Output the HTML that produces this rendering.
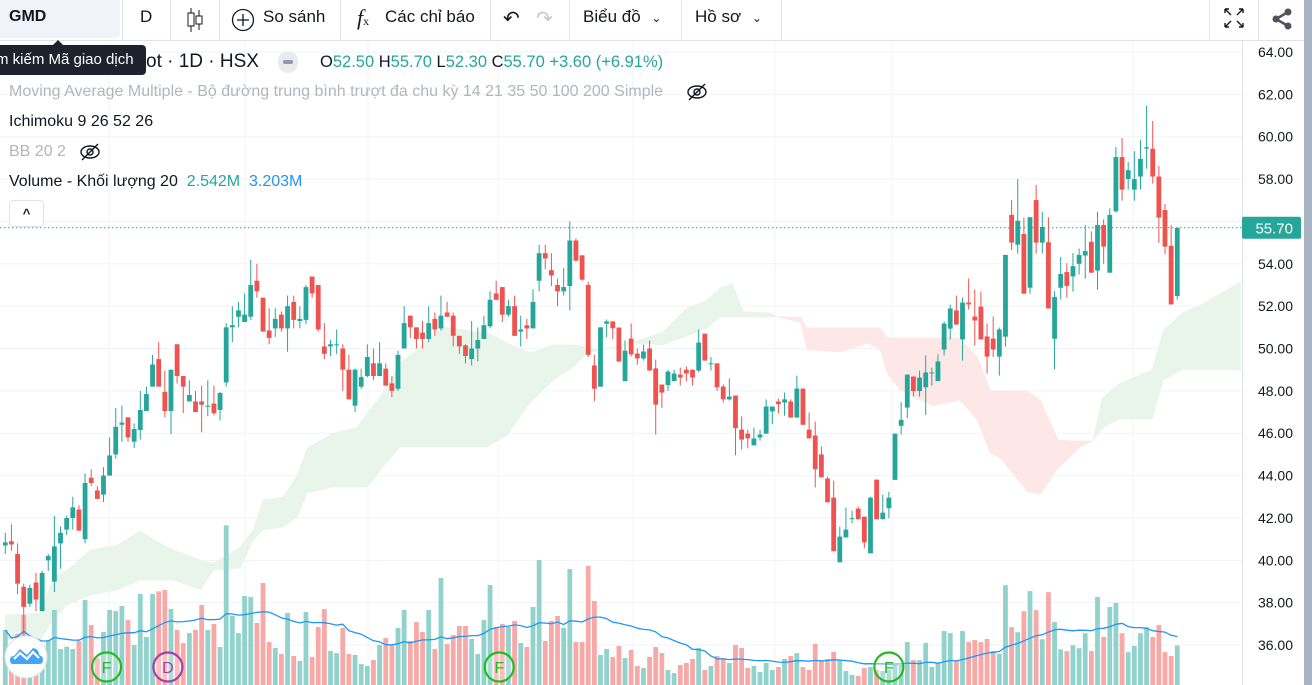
<!DOCTYPE html>
<html><head><meta charset="utf-8">
<style>
*{box-sizing:border-box;margin:0;padding:0}
body{width:1312px;height:685px;overflow:hidden;background:#fff;font-family:"Liberation Sans","Noto Sans CJK SC",sans-serif;color:#131722;position:relative}
.abs{position:absolute;white-space:nowrap}
.sep{position:absolute;top:0;width:1px;height:41px;background:#e0e3eb}
.tb{font-size:17px;color:#131722;top:7px}
</style></head><body>
<svg id="chart" width="1312" height="685" style="position:absolute;left:0;top:0">
<defs><clipPath id="pane"><rect x="0" y="41" width="1242" height="644"/></clipPath></defs>
<g id="grid"></g>
<g id="cloud" clip-path="url(#pane)"></g>
<g id="vol" clip-path="url(#pane)"></g>
<g id="candles" clip-path="url(#pane)"></g>
<g id="axis"></g>
</svg>

<!-- toolbar -->
<div class="abs" style="left:0;top:0;width:1312px;height:41px;border-bottom:1px solid #e0e3eb;background:#fff"></div>
<div class="abs" style="left:0;top:0;width:120px;height:38px;background:#f0f3fa;border-radius:0 0 4px 0;font-weight:bold;font-size:16px;padding:8px 0 0 9px">GMD</div>
<div class="sep" style="left:122px"></div>
<div class="abs tb" style="left:140px">D</div>
<div class="sep" style="left:170px"></div>
<svg class="abs" style="left:185px;top:6px" width="20" height="28"><line x1="6" y1="2" x2="6" y2="26" stroke="#131722"/><rect x="3" y="7" width="6" height="13" fill="#fff" stroke="#131722"/><line x1="14" y1="4" x2="14" y2="24" stroke="#131722"/><rect x="11" y="10" width="6" height="8" fill="#fff" stroke="#131722"/></svg>
<div class="sep" style="left:219px"></div>
<svg class="abs" style="left:231px;top:8px" width="24" height="24"><circle cx="12" cy="12" r="10.5" fill="none" stroke="#131722" stroke-width="1.3"/><path d="M12 6v12M6 12h12" stroke="#131722" stroke-width="1.3"/></svg>
<div class="abs tb" style="left:263px">So sánh</div>
<div class="sep" style="left:340px"></div>
<div class="abs" style="left:357px;top:5px;font-family:'Liberation Serif',serif;font-style:italic;font-size:22px">f<span style="font-size:12px;font-style:normal">x</span></div>
<div class="abs tb" style="left:385px">Các chỉ báo</div>
<div class="sep" style="left:490px"></div>
<div class="abs" style="left:503px;top:6px;font-size:20px">↶</div>
<div class="abs" style="left:536px;top:6px;font-size:20px;color:#c5c8d0">↷</div>
<div class="sep" style="left:569px"></div>
<div class="abs tb" style="left:583px">Biểu đồ <span style="font-size:12px;margin-left:6px">&#8964;</span></div>
<div class="sep" style="left:681px"></div>
<div class="abs tb" style="left:695px">Hồ sơ <span style="font-size:12px;margin-left:6px">&#8964;</span></div>
<div class="sep" style="left:781px"></div>
<div class="sep" style="left:1209px"></div>
<svg class="abs" style="left:1222px;top:6px" width="24" height="24"><g stroke="#131722" stroke-width="1.4" fill="none"><path d="M3 3l6 6M3 3h4M3 3v4M21 3l-6 6M21 3h-4M21 3v4M3 21l6-6M3 21h4M3 21v-4M21 21l-6-6M21 21h-4M21 21v-4"/></g></svg>
<div class="sep" style="left:1258px"></div>
<svg class="abs" style="left:1270px;top:7px" width="24" height="24"><circle cx="18" cy="5" r="3.5" fill="#50535e"/><circle cx="6" cy="12" r="3.5" fill="#50535e"/><circle cx="18" cy="19" r="3.5" fill="#50535e"/><path d="M18 5L6 12L18 19" stroke="#50535e" stroke-width="2.5" fill="none"/></svg>
<div class="abs" style="left:1304px;top:0;width:8px;height:685px;background:#a9b4c2"></div>

<!-- legend -->
<div class="abs" style="left:146px;top:51px;font-size:19px;color:#131722">ot · 1D · HSX</div>
<div class="abs" style="left:278px;top:51px;width:20px;height:22px;border-radius:10px;background:#e9ebef"><div style="margin:9px 5px;width:10px;height:4px;border-radius:2px;background:#9598a1"></div></div>
<div class="abs" style="left:320px;top:53px;font-size:16.5px;color:#131722">O<span style="color:#26a69a">52.50</span> H<span style="color:#26a69a">55.70</span> L<span style="color:#26a69a">52.30</span> C<span style="color:#26a69a">55.70</span> <span style="color:#26a69a">+3.60 (+6.91%)</span></div>
<div class="abs" style="left:9px;top:83px;font-size:16px;color:#b2b5be">Moving Average Multiple - Bộ đường trung bình trượt đa chu kỳ 14 21 35 50 100 200 Simple</div>
<svg class="abs" style="left:686px;top:82px" width="22" height="20"><ellipse cx="11" cy="10" rx="9" ry="6" fill="none" stroke="#131722" stroke-width="1.4"/><circle cx="11" cy="10" r="3" fill="none" stroke="#131722" stroke-width="1.4"/><line x1="3" y1="18" x2="19" y2="2" stroke="#131722" stroke-width="1.4"/></svg>
<div class="abs" style="left:9px;top:113px;font-size:16px;color:#131722">Ichimoku 9 26 52 26</div>
<div class="abs" style="left:9px;top:143px;font-size:16px;color:#b2b5be">BB 20 2</div>
<svg class="abs" style="left:79px;top:142px" width="22" height="20"><ellipse cx="11" cy="10" rx="9" ry="6" fill="none" stroke="#131722" stroke-width="1.4"/><circle cx="11" cy="10" r="3" fill="none" stroke="#131722" stroke-width="1.4"/><line x1="3" y1="18" x2="19" y2="2" stroke="#131722" stroke-width="1.4"/></svg>
<div class="abs" style="left:9px;top:173px;font-size:16px;color:#131722">Volume - Khối lượng 20 &nbsp;<span style="color:#26a69a">2.542M</span> &nbsp;<span style="color:#2196f3">3.203M</span></div>
<div class="abs" style="left:9px;top:200px;width:35px;height:27px;border:1px solid #e0e3eb;border-radius:4px;background:#fff;text-align:center;font-size:13px;font-weight:bold;padding-top:5px">^</div>
<div class="abs" style="left:-4px;top:45px;width:150px;height:30px;background:#1e222d;border-radius:4px;color:#fff;font-size:15px;padding:6px 0 0 0">m kiếm Mã giao dịch</div>
<div class="abs" style="left:52px;top:40px;width:0;height:0;border-left:6px solid transparent;border-right:6px solid transparent;border-bottom:6px solid #1e222d"></div>

<svg class="abs" style="left:2px;top:633px" width="50" height="50"><circle cx="24" cy="24" r="21" fill="#fff" stroke="#e0e3eb"/><path d="M11 31 Q8 31 8 27 Q8 23 12 23 L18 16 L25 22 L31 15 Q37 16 37 22 Q41 23 41 27 Q41 31 37 31 Z" fill="#42a5f5"/><path d="M12 26 L18 20 L25 26 L31 19 L37 25" stroke="#fff" stroke-width="2.2" fill="none"/></svg>

<script>
// ---- data ----
const opens =[40.7,40.9,40.3,38.75,37.95,38.95,37.6,40.0,38.99,40.8,41.45,42.0,42.4,41.0,43.9,43.3,43.1,44.0,45.0,46.4,46.75,45.6,46.15,47.05,48.2,49.5,47.95,47.05,50.2,48.7,47.5,47.5,47.5,
47.25,47.4,47.1,48.4,51.0,51.5,51.25,51.5,53.2,52.4,50.85,50.95,51.6,50.95,52.2,51.3,51.35,53.4,53.0,50.1,50.1,50.2,50.0,49.0,47.3,48.2,48.7,49.3,48.7,49.05,48.35,48.1,50.0,
51.55,51.0,50.75,50.45,51.4,50.95,51.7,51.55,50.6,50.15,49.5,50.0,50.45,51.05,52.6,52.9,51.6,52.0,50.8,51.1,50.95,53.2,54.5,53.7,53.0,52.7,52.95,55.1,54.4,53.0,49.2,48.2,
51.17,51.28,50.99,48.46,50.47,49.76,49.53,50.0,49.06,48.3,48.27,48.46,48.77,49.0,49.0,48.96,50.7,49.26,49.3,48.2,47.6,47.78,46.17,45.98,45.43,45.8,45.98,47.03,47.5,47.45,47.5,46.74,48.11,
46.17,45.89,45.0,43.86,42.96,39.91,41.08,41.96,42.44,42.06,40.33,43.81,41.94,42.46,43.8,46.35,47.21,48.68,47.99,48.17,48.83,48.46,49.95,50.94,51.8,50.43,52.17,51.51,51.98,50.57,50.47,49.62,
50.56,56.31,54.9,55.41,52.87,57.01,55.0,55.02,50.46,52.87,53.61,53.4,54.0,54.39,55.04,53.68,55.83,53.58,56.48,59.04,58.0,57.5,58.12,59.44,59.43,58.12,56.54,54.85,52.48];
const highs =[41.3,41.7,40.8,38.9,38.85,39.4,39.5,40.3,42.1,41.6,42.1,43.0,42.6,44.1,44.3,43.5,44.4,45.8,47.2,47.3,46.75,46.45,48.0,48.2,49.7,50.3,48.95,49.0,50.2,48.7,48.5,48.0,48.25,
48.5,48.25,47.95,51.2,52.0,52.2,52.6,54.2,54.0,52.4,51.9,51.9,51.75,52.5,52.5,52.0,53.0,53.4,53.0,51.2,50.4,50.9,50.2,49.7,49.05,49.05,50.2,50.0,50.3,49.3,48.7,49.9,52.0,
51.55,51.0,51.3,52.0,51.7,52.5,52.2,51.7,50.6,50.2,51.3,51.0,51.55,52.7,53.2,52.9,52.3,52.5,51.55,51.4,52.8,54.9,54.9,54.5,53.3,53.8,56.0,55.2,54.4,53.15,49.7,51.0,
51.37,51.28,50.99,50.38,51.18,50.0,50.19,50.38,49.48,48.3,49.0,49.0,49.1,49.15,49.0,50.9,50.7,49.6,49.3,48.3,48.58,47.78,46.79,46.17,46.26,46.17,47.6,47.26,47.64,47.92,47.6,48.72,48.11,
46.98,46.55,45.37,43.95,43.76,41.59,42.49,42.34,42.54,42.06,43.0,43.81,43.1,43.24,45.98,47.47,48.77,48.68,48.96,49.67,49.1,49.72,51.28,52.08,52.5,52.41,53.31,52.79,52.69,51.18,51.51,50.99,
54.42,57.01,58.0,56.18,56.2,57.72,56.45,56.2,52.71,54.32,54.03,54.51,54.72,55.83,55.53,56.45,56.1,56.62,59.51,59.94,58.81,59.32,59.85,61.45,60.75,58.62,56.82,55.83,55.7];
const lows  =[40.3,40.45,38.4,36.5,37.8,37.6,37.6,39.5,38.5,39.6,41.2,41.45,41.4,40.8,43.5,42.9,42.75,44.0,44.8,45.6,45.6,45.3,45.7,47.05,48.2,48.2,46.75,45.95,48.35,46.95,47.5,47.0,46.05,
46.8,46.85,46.6,48.2,50.3,51.0,51.25,51.35,52.4,50.8,50.2,50.55,50.8,49.85,50.95,50.95,51.15,52.4,50.8,49.5,49.65,49.75,48.0,47.6,47.0,48.1,48.65,48.5,48.7,48.25,47.7,48.0,50.0,
50.5,50.0,50.0,50.3,50.6,50.85,51.5,50.1,49.75,49.3,49.2,49.4,50.45,50.95,52.3,51.25,51.5,50.6,50.1,50.45,50.95,52.7,53.75,52.95,52.0,52.5,51.8,54.1,53.2,49.6,47.5,48.2,
50.54,50.44,49.35,48.46,49.62,49.24,49.43,48.96,45.94,47.2,48.0,48.46,48.25,48.44,48.25,48.88,49.43,48.96,48.0,47.45,47.54,44.96,45.23,45.29,45.43,45.65,45.98,46.43,46.94,46.83,46.74,46.74,46.4,
45.76,43.44,43.92,42.74,40.43,39.91,41.08,41.75,41.94,40.57,40.33,41.94,41.94,41.99,43.8,45.94,46.71,47.73,47.73,46.85,48.25,48.46,49.67,50.43,51.13,49.43,51.84,50.14,50.43,48.82,49.6,48.72,
50.09,54.65,54.48,52.59,52.59,54.48,54.48,51.89,49.01,52.31,52.4,52.68,53.49,53.29,53.58,52.78,54.0,53.58,56.41,56.98,57.5,56.98,57.5,58.49,57.79,54.99,54.46,52.08,52.31];
const closes=[40.85,40.75,38.9,37.8,38.7,38.15,39.4,40.2,40.66,41.3,42.0,42.5,41.4,43.65,43.65,42.9,44.0,44.95,46.3,46.5,45.8,46.2,47.1,47.85,49.25,48.2,47.05,49.0,48.7,48.2,47.8,47.0,47.35,
47.3,46.95,47.9,51.0,51.1,51.8,51.6,53.0,52.7,50.8,50.5,51.4,50.95,52.0,51.35,51.4,52.9,52.6,50.9,49.75,50.2,50.2,49.0,47.6,49.0,48.65,49.6,48.7,49.3,48.25,48.0,49.7,51.2,
51.0,50.45,50.45,51.2,50.9,51.55,51.5,50.6,50.1,49.65,50.0,50.4,51.1,52.3,52.3,51.6,52.0,50.6,50.9,50.95,52.2,54.5,54.25,53.45,52.7,52.9,55.1,54.15,53.25,49.7,48.1,51.0,
51.28,50.96,49.39,49.9,49.72,49.53,49.86,48.96,47.35,47.92,48.91,48.82,48.63,48.82,48.63,50.28,49.43,49.3,48.17,47.6,47.73,46.24,45.7,45.76,45.75,45.94,47.26,47.26,47.37,47.6,46.74,48.11,46.4,
45.76,44.3,43.92,42.74,40.43,41.12,41.45,41.99,41.94,40.85,42.96,41.94,42.25,42.96,45.98,46.63,48.77,47.99,48.63,48.87,48.87,49.39,51.18,51.89,51.13,52.17,52.08,51.32,50.43,49.62,49.95,50.9,
54.42,55.0,56.03,52.59,56.2,55.0,55.74,51.89,52.43,53.52,52.96,53.89,54.42,54.6,53.58,55.83,54.81,56.31,59.04,57.5,58.42,58.0,58.95,59.5,58.12,56.18,54.81,52.08,55.7];
const volumes=[3.55,2.52,3.29,4.52,2.0,2.0,2.0,2.9,4.84,2.32,2.47,2.32,2.84,5.48,3.87,1.72,3.42,4.84,4.77,5.1,4.19,2.58,5.87,3.1,5.87,6.04,6.13,4.9,3.55,2.7,3.35,3.55,5.16,
3.55,3.94,2.45,10.3,4.45,3.35,5.74,5.68,4.0,6.58,2.77,2.39,2.0,4.65,1.87,1.55,4.71,1.81,3.74,4.9,2.19,2.06,3.68,2.0,1.94,1.35,1.23,1.61,2.58,3.03,2.58,3.68,4.84,
2.84,4.06,3.42,4.84,2.32,6.9,2.65,3.23,3.81,3.81,2.97,2.0,4.19,6.45,3.74,3.94,3.74,4.13,2.71,2.45,5.03,8.06,2.84,4.13,4.45,3.68,7.48,2.77,2.77,7.68,5.42,1.94,
2.32,1.81,2.52,1.74,2.26,1.23,1.1,1.81,2.45,2.06,0.97,0.77,1.29,1.42,1.68,2.39,0.97,1.23,1.87,1.74,1.42,2.58,2.39,1.1,1.23,0.84,1.42,0.97,1.16,1.68,1.87,2.06,1.16,
0.97,2.65,1.61,1.68,2.13,1.61,0.9,0.65,0.58,1.1,1.16,0.97,0.9,0.97,1.29,1.29,2.77,1.61,1.61,2.71,1.16,1.42,3.48,3.35,1.55,3.48,2.77,2.9,2.77,2.97,2.19,2.0,
6.44,3.73,3.41,4.76,6.06,4.83,2.95,5.99,4.06,2.3,2.19,2.57,2.38,3.34,2.19,5.68,3.1,5.03,5.29,3.34,2.12,2.52,3.34,3.73,3.1,3.87,2.12,1.87,2.542];
// Ichimoku cloud (bar index, senkou span A, senkou span B)
const cloudIdx=[0,5.7,7.8,10.1,13.9,18.3,22,24.8,27.4,31.8,33.9,38.3,40.4,42,45.3,47.6,49.2,53.5,57.4,59,61.1,64.4,67.6,71.4,78.6,81.8,85.6,89.3,92.6,94.8,97,102.3,107.2,111.1,114.4,116.5,118.5,120.3,124.7,125.8,129.6,130.7,136.1,140.6,142.6,143.7,145.9,151.2,155.6,158.4,160.5,162.2,166.6,168.7,171.6,175.2,177.2,178.8,181.4,186.9,188.7,191.8,194.8,201.3];
const spanA=[37.42,37.51,39.17,39.54,40.49,40.72,41.38,40.87,40.49,40.01,39.87,40.63,41.43,42.85,42.99,44.03,45.3,46.01,46.29,46.96,47.71,49.32,50.07,51.02,50.73,50.26,49.79,50.17,50.17,50.07,49.93,50.31,50.78,51.91,52.29,52.86,53.05,51.73,51.68,51.49,51.25,49.93,49.84,50.26,49.93,48.84,48.04,47.29,47.57,46.62,45.07,44.83,43.23,43.13,44.36,45.35,45.63,47.66,48.32,48.99,50.83,51.68,52.05,53.14];
const spanB=[36.24,36.24,37.18,37.89,38.36,38.6,39.07,39.07,39.07,38.6,39.54,39.64,40.96,41.43,41.57,42.05,43.18,43.46,43.46,43.46,44.26,45.35,45.35,45.35,45.35,45.92,47.47,48.51,49.13,49.79,49.93,50.26,50.17,50.59,50.97,51.49,51.49,51.49,51.49,51.49,51.49,50.97,50.97,50.97,50.97,50.5,50.5,50.5,50.5,49.6,48.04,47.99,47.99,47.57,45.68,45.63,45.63,46.25,46.67,46.67,48.51,48.99,48.99,48.99];
const priceTicks=[64,62,60,58,56,54,52,50,48,46,44,42,40,38,36];
const lastPrice=55.70;
const gridX=[109,245,368,498,633,775,892,1133];
const markers=[{i:16.5,t:"F",c:"#22bb22"},{i:26.5,t:"D",c:"#a53fa5"},{i:80.5,t:"F",c:"#22bb22"},{i:144,t:"F",c:"#22bb22"}];

// ---- scales ----
const NS="http://www.w3.org/2000/svg";
const yP=p=>52+(64-p)*21.18;
const xI=i=>5.3+i*6.136;
const yV=v=>685-v*15.5;
function mk(tag,attrs,parent){const e=document.createElementNS(NS,tag);for(const k in attrs)e.setAttribute(k,attrs[k]);parent.appendChild(e);return e;}
const G=id=>document.getElementById(id);

// grid
priceTicks.forEach(p=>{const l=mk('line',{x1:0,x2:1242,y1:yP(p),y2:yP(p),stroke:'#f0f3fa'},G('grid'));

});
gridX.forEach(x=>{const l=mk('line',{x1:x,x2:x,y1:41,y2:685,stroke:'#f0f3fa'},G('grid'));

});

// cloud
for(let k=0;k<cloudIdx.length-1;k++){
  const x1=xI(cloudIdx[k]),x2=xI(cloudIdx[k+1]);
  const green=(spanA[k]+spanA[k+1])>=(spanB[k]+spanB[k+1]);
  const poly=mk('polygon',{points:`${x1},${yP(spanA[k])} ${x2},${yP(spanA[k+1])} ${x2},${yP(spanB[k+1])} ${x1},${yP(spanB[k])}`,fill:green?'#e9f4ea':'#fde8e7',stroke:green?'#e9f4ea':'#fde8e7','stroke-width':0.6},G('cloud'));
  
  
}

// volume
volumes.forEach((v,i)=>{const up=closes[i]>=opens[i];
  const r=mk('rect',{x:xI(i)-2.4,y:yV(v),width:4.8,height:685-yV(v),fill:up?'#92d2cc':'#f7a9a7'},G('vol'));
  
  });
// volume MA 20
let pts=[];
volumes.forEach((v,i)=>{const s=volumes.slice(Math.max(0,i-19),i+1);const m=s.reduce((a,b)=>a+b,0)/s.length;pts.push(xI(i).toFixed(1)+','+yV(m).toFixed(1));});
const ma=mk('polyline',{points:pts.join(' '),fill:'none',stroke:'#2196f3','stroke-width':1.3},G('vol'));



// candles
opens.forEach((o,i)=>{const c=closes[i],up=c>=o,col=up?'#26a69a':'#ef5350',x=xI(i);
  const g=mk('g',{},G('candles'));
  
  
  mk('line',{x1:x,x2:x,y1:yP(highs[i]),y2:yP(lows[i]),stroke:col,'stroke-width':1},g);
  const t=yP(Math.max(o,c)),b=yP(Math.min(o,c));
  mk('rect',{x:x-2.4,y:t,width:4.8,height:Math.max(1,b-t),fill:col},g);});

// markers
markers.forEach(m=>{const x=xI(m.i);const g=mk('g',{},G('candles'));
  
  
  mk('circle',{cx:x,cy:667,r:14.5,fill:'rgba(255,255,255,0.25)',stroke:m.c,'stroke-width':2.2},g);
  const t=mk('text',{x:x,y:673,'text-anchor':'middle','font-size':16,fill:m.c,'font-family':'Liberation Sans, sans-serif'},g);t.textContent=m.t;});

// last price line
const lp=mk('line',{x1:0,x2:1242,y1:yP(lastPrice),y2:yP(lastPrice),stroke:'#26a69a','stroke-dasharray':'1.5,2.5'},G('axis'));


mk('line',{x1:1242.5,x2:1242.5,y1:41,y2:685,stroke:'#e0e3eb'},G('axis'));
priceTicks.forEach(p=>{const t=mk('text',{x:1293,y:yP(p)+5,'text-anchor':'end','font-size':14,fill:'#131722','font-family':'Liberation Sans, sans-serif'},G('axis'));
  
  
  t.textContent=p.toFixed(2);});
const bx=mk('rect',{x:1242,y:yP(lastPrice)-11,width:59,height:22,rx:2,fill:'#26a69a'},G('axis'));


const lt=mk('text',{x:1293,y:yP(lastPrice)+5.5,'text-anchor':'end','font-size':15,fill:'#fff','font-family':'Liberation Sans, sans-serif'},G('axis'));
lt.textContent=lastPrice.toFixed(2);
</script>
</body></html>
